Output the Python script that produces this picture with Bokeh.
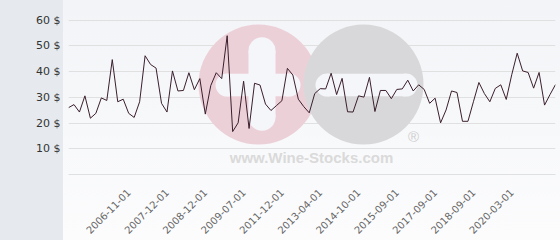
import math
from bokeh.plotting import figure
from bokeh.models import Range1d, FixedTicker, PrintfTickFormatter
from bokeh.core.properties import value
from bokeh.embed import file_html
from bokeh.resources import INLINE

# ---- data ----
prices = [26.0, 27.2, 24.3, 30.6, 21.9, 23.8, 29.8, 28.8, 44.7, 28.3,
          29.3, 23.8, 22.2, 28.3, 46.2, 42.8, 41.4, 27.7, 24.3, 40.3,
          32.5, 32.7, 39.6, 33.0, 37.3, 23.5, 34.6, 39.6, 37.3, 54.0,
          16.7, 20.1, 36.3, 17.9, 35.5, 34.8, 27.4, 24.9, 26.8, 28.7,
          41.3, 38.7, 29.3, 26.4, 24.0, 31.5, 33.4, 33.3, 39.4, 31.1,
          37.4, 24.4, 24.3, 30.6, 30.1, 37.8, 24.5, 32.7, 32.7, 29.5,
          33.1, 33.3, 36.7, 32.5, 34.9, 33.1, 27.7, 29.7, 20.1, 25.1,
          32.5, 31.9, 20.7, 20.7, 28.3, 35.8, 31.5, 28.3, 33.5, 34.9,
          29.2, 38.8, 47.2, 40.3, 39.7, 33.6, 39.7, 27.0, 31.1, 35.0]
tick_labels = ["2006-11-01", "2007-12-01", "2008-12-01", "2009-07-01",
               "2011-12-01", "2013-04-01", "2014-10-01", "2015-09-01",
               "2017-09-01", "2018-09-01", "2020-03-01"]
first_labelled = 11
label_every = 7
y_ticks = [10, 20, 30, 40, 50, 60]
grid_ticks = [0, 10, 20, 30, 40, 50, 60]

xs = list(range(len(prices)))
tick_pos = [first_labelled + i * label_every for i in range(len(tick_labels))]

W, H = 560, 240
L, R, T, B = 68, 5, 0, 62
Y_MAX = 67.7

p = figure(width=W, height=H, output_backend="svg", toolbar_location=None,
           x_range=Range1d(0, len(prices) - 1), y_range=Range1d(0, Y_MAX),
           min_border_left=L, min_border_right=R, min_border_top=T,
           min_border_bottom=B)
p.border_fill_alpha = 0
p.background_fill_alpha = 0
p.outline_line_color = None
p.styles = {"background": "linear-gradient(to right, #e6eaee 0px, #e6eaee 63px, transparent 63px), "
                          "linear-gradient(to bottom, #f2f4f7, #fcfcfd)"}

# ---- watermark (decoration, placed in screen pixels) ----
fw = W - L - R
fh = H - T - B
def dx(px):
    return (px - L) * (len(prices) - 1) / fw
def dy(py):
    return (T + fh - py) * Y_MAX / fh

bg = "#f5f6f9"
p.scatter(x=[dx(258)], y=[dy(86)], size=120, marker="circle",
          fill_color="#ecd0d8", line_color=None)
p.scatter(x=[dx(363)], y=[dy(86)], size=120, marker="circle",
          fill_color="#d8d8da", line_color=None)
# vertical pill in pink circle
p.quad(left=[dx(248)], right=[dx(275)], top=[dy(51.5)], bottom=[dy(119.5)],
       fill_color=bg, line_color=None)
p.scatter(x=[dx(261.5), dx(261.5)], y=[dy(51.5), dy(119.5)], size=27,
          marker="circle", fill_color=bg, line_color=None)
# horizontal pills
p.quad(left=[dx(226.5), dx(326.5)], right=[dx(288.5), dx(405.5)],
       top=[dy(75), dy(75)], bottom=[dy(98), dy(98)], fill_color=bg, line_color=None)
p.scatter(x=[dx(226.5), dx(288.5), dx(326.5), dx(405.5)], y=[dy(86.5)] * 4, size=23,
          marker="circle", fill_color=bg, line_color=None)
p.text(x=[dx(311)], y=[dy(161)], text=["www.Wine-Stocks.com"], text_align="center",
       text_baseline="middle", text_font=value("Liberation Sans"), text_font_style="bold",
       text_font_size="15px", text_color="#dadada")
p.text(x=[dx(413)], y=[dy(139)], text=["®"], text_align="center",
       text_baseline="middle", text_font=value("Liberation Sans"),
       text_font_size="15px", text_color="#cfcfcf")

# ---- data line ----
p.line(xs, prices, line_color="#3a1e2c", line_width=1)

# ---- axes ----
p.xgrid.grid_line_color = None
p.ygrid.ticker = FixedTicker(ticks=grid_ticks)
p.ygrid.grid_line_color = "#e0e0e0"
p.ygrid.grid_line_width = 1

ya = p.yaxis[0]
ya.ticker = FixedTicker(ticks=y_ticks)
ya.formatter = PrintfTickFormatter(format="%d $")
ya.axis_line_color = None
ya.major_tick_line_color = None
ya.minor_tick_line_color = None
ya.major_tick_out = 0
ya.major_tick_in = 0
ya.major_label_standoff = 8
ya.major_label_text_font = "DejaVu Sans"
ya.major_label_text_font_size = "11px"
ya.major_label_text_color = "#333333"

xa = p.xaxis[0]
xa.ticker = FixedTicker(ticks=tick_pos)
xa.major_label_overrides = {t: lab for t, lab in zip(tick_pos, tick_labels)}
xa.major_label_orientation = math.pi / 4
xa.axis_line_color = "#e0e0e0"
xa.major_tick_line_color = None
xa.minor_tick_line_color = None
xa.major_tick_out = 0
xa.major_tick_in = 0
xa.major_label_standoff = 16
xa.major_label_text_font = "DejaVu Sans"
xa.major_label_text_font_size = "10px"
xa.major_label_text_color = "#666666"

open("out.html", "w").write(file_html(p, INLINE))
